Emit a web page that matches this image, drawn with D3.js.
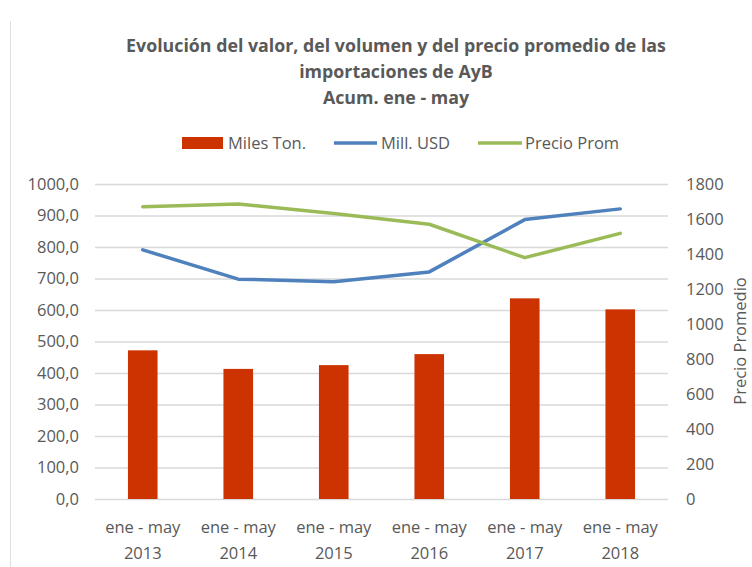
<!DOCTYPE html>
<html>
<head>
<meta charset="utf-8">
<script src="https://cdn.jsdelivr.net/npm/d3@7"></script>
<style>
  body { margin: 0; background: #fff; }
  svg text { font-family: "Open Sans", "Liberation Sans", sans-serif; fill: #595959; }
</style>
</head>
<body>
<div id="viz"></div>
<script>
// data
const categories = ["2013", "2014", "2015", "2016", "2017", "2018"]
const milesTon = [472, 413, 425, 460, 637, 602]
const millUsd = [791, 698, 690, 721, 887, 921]
const precioProm = [1670, 1686, 1632, 1570, 1379, 1518]
const leftTicks = [0, 100, 200, 300, 400, 500, 600, 700, 800, 900, 1000]
const rightTicks = [0, 200, 400, 600, 800, 1000, 1200, 1400, 1600, 1800]

const width = 752
const height = 567

const svg = d3.select("#viz").append("svg")
    .attr("width", width)
    .attr("height", height)

// faint chart border on the left
svg.append("line")
    .attr("x1", 10.5).attr("x2", 10.5)
    .attr("y1", 21).attr("y2", height)
    .attr("stroke", "#e0e0e0")

const x = d3.scaleBand()
    .domain(categories)
    .range([95, 668])
    .paddingInner(0.69)
    .paddingOuter(0.345)

const yLeft = d3.scaleLinear().domain([0, 1000]).range([499, 184])
const yRight = d3.scaleLinear().domain([0, 1800]).range([499, 184])

// gridlines
svg.append("g")
    .selectAll("line")
    .data(leftTicks)
    .join("line")
    .attr("x1", 95).attr("x2", 668)
    .attr("y1", d => yLeft(d) + 0.5)
    .attr("y2", d => yLeft(d) + 0.5)
    .attr("stroke", "#d9d9d9")
    .attr("stroke-width", 1.3)

// left axis labels
svg.append("g")
    .selectAll("text")
    .data(leftTicks)
    .join("text")
    .attr("x", 79)
    .attr("y", d => yLeft(d) + 5.5)
    .attr("text-anchor", "end")
    .style("font-size", "16.5px")
    .text(d => d3.format(".1f")(d).replace(".", ","))

// right axis labels
svg.append("g")
    .selectAll("text")
    .data(rightTicks)
    .join("text")
    .attr("x", 686)
    .attr("y", d => yRight(d) + 5.5)
    .style("font-size", "16.5px")
    .text(d => d)

svg.append("text")
    .attr("transform", "translate(746," + (341) + ") rotate(-90)")
    .attr("text-anchor", "middle")
    .style("font-size", "16.5px")
    .text("Precio Promedio")

// bars
svg.append("g")
    .selectAll("rect")
    .data(milesTon)
    .join("rect")
    .attr("x", (d, i) => x(categories[i]))
    .attr("width", x.bandwidth())
    .attr("y", d => yLeft(d))
    .attr("height", d => yLeft(0) - yLeft(d))
    .attr("fill", "#cc3300")

// lines
const cx = i => x(categories[i]) + x.bandwidth() / 2

const lineLeft = d3.line().x((d, i) => cx(i)).y(d => yLeft(d))
const lineRight = d3.line().x((d, i) => cx(i)).y(d => yRight(d))

svg.append("path")
    .datum(millUsd)
    .attr("d", lineLeft)
    .attr("fill", "none")
    .attr("stroke", "#4f81bd")
    .attr("stroke-width", 3.5)
    .attr("stroke-linecap", "round")
    .attr("stroke-linejoin", "round")

svg.append("path")
    .datum(precioProm)
    .attr("d", lineRight)
    .attr("fill", "none")
    .attr("stroke", "#9bbb59")
    .attr("stroke-width", 3.5)
    .attr("stroke-linecap", "round")
    .attr("stroke-linejoin", "round")

// x labels
const xl = svg.append("g")
    .selectAll("g")
    .data(categories)
    .join("g")
    .attr("transform", d => "translate(" + (x(d) + x.bandwidth() / 2) + ",0)")

xl.append("text")
    .attr("y", 533)
    .attr("text-anchor", "middle")
    .style("font-size", "16.5px")
    .text("ene - may")

xl.append("text")
    .attr("y", 559)
    .attr("text-anchor", "middle")
    .style("font-size", "16.5px")
    .text(d => d)

// title
const titleLines = [
    "Evolución del valor, del volumen y del precio promedio de las",
    "importaciones de AyB",
    "Acum. ene - may"
]
svg.append("g")
    .selectAll("text")
    .data(titleLines)
    .join("text")
    .attr("x", 396)
    .attr("y", (d, i) => 52 + i * 26)
    .attr("text-anchor", "middle")
    .style("font-size", "17.8px")
    .style("font-weight", "bold")
    .text(d => d)

// legend
const legend = svg.append("g")
legend.append("rect")
    .attr("x", 182).attr("y", 137)
    .attr("width", 41).attr("height", 12)
    .attr("fill", "#cc3300")
legend.append("text")
    .attr("x", 228).attr("y", 149)
    .style("font-size", "16.5px")
    .text("Miles Ton.")

legend.append("line")
    .attr("x1", 334).attr("x2", 377)
    .attr("y1", 143).attr("y2", 143)
    .attr("stroke", "#4f81bd")
    .attr("stroke-width", 3.5)
legend.append("text")
    .attr("x", 381).attr("y", 149)
    .style("font-size", "16.5px")
    .text("Mill. USD")

legend.append("line")
    .attr("x1", 478).attr("x2", 522)
    .attr("y1", 143).attr("y2", 143)
    .attr("stroke", "#9bbb59")
    .attr("stroke-width", 3.5)
legend.append("text")
    .attr("x", 525).attr("y", 149)
    .style("font-size", "16.5px")
    .text("Precio Prom")
</script>
</body>
</html>
